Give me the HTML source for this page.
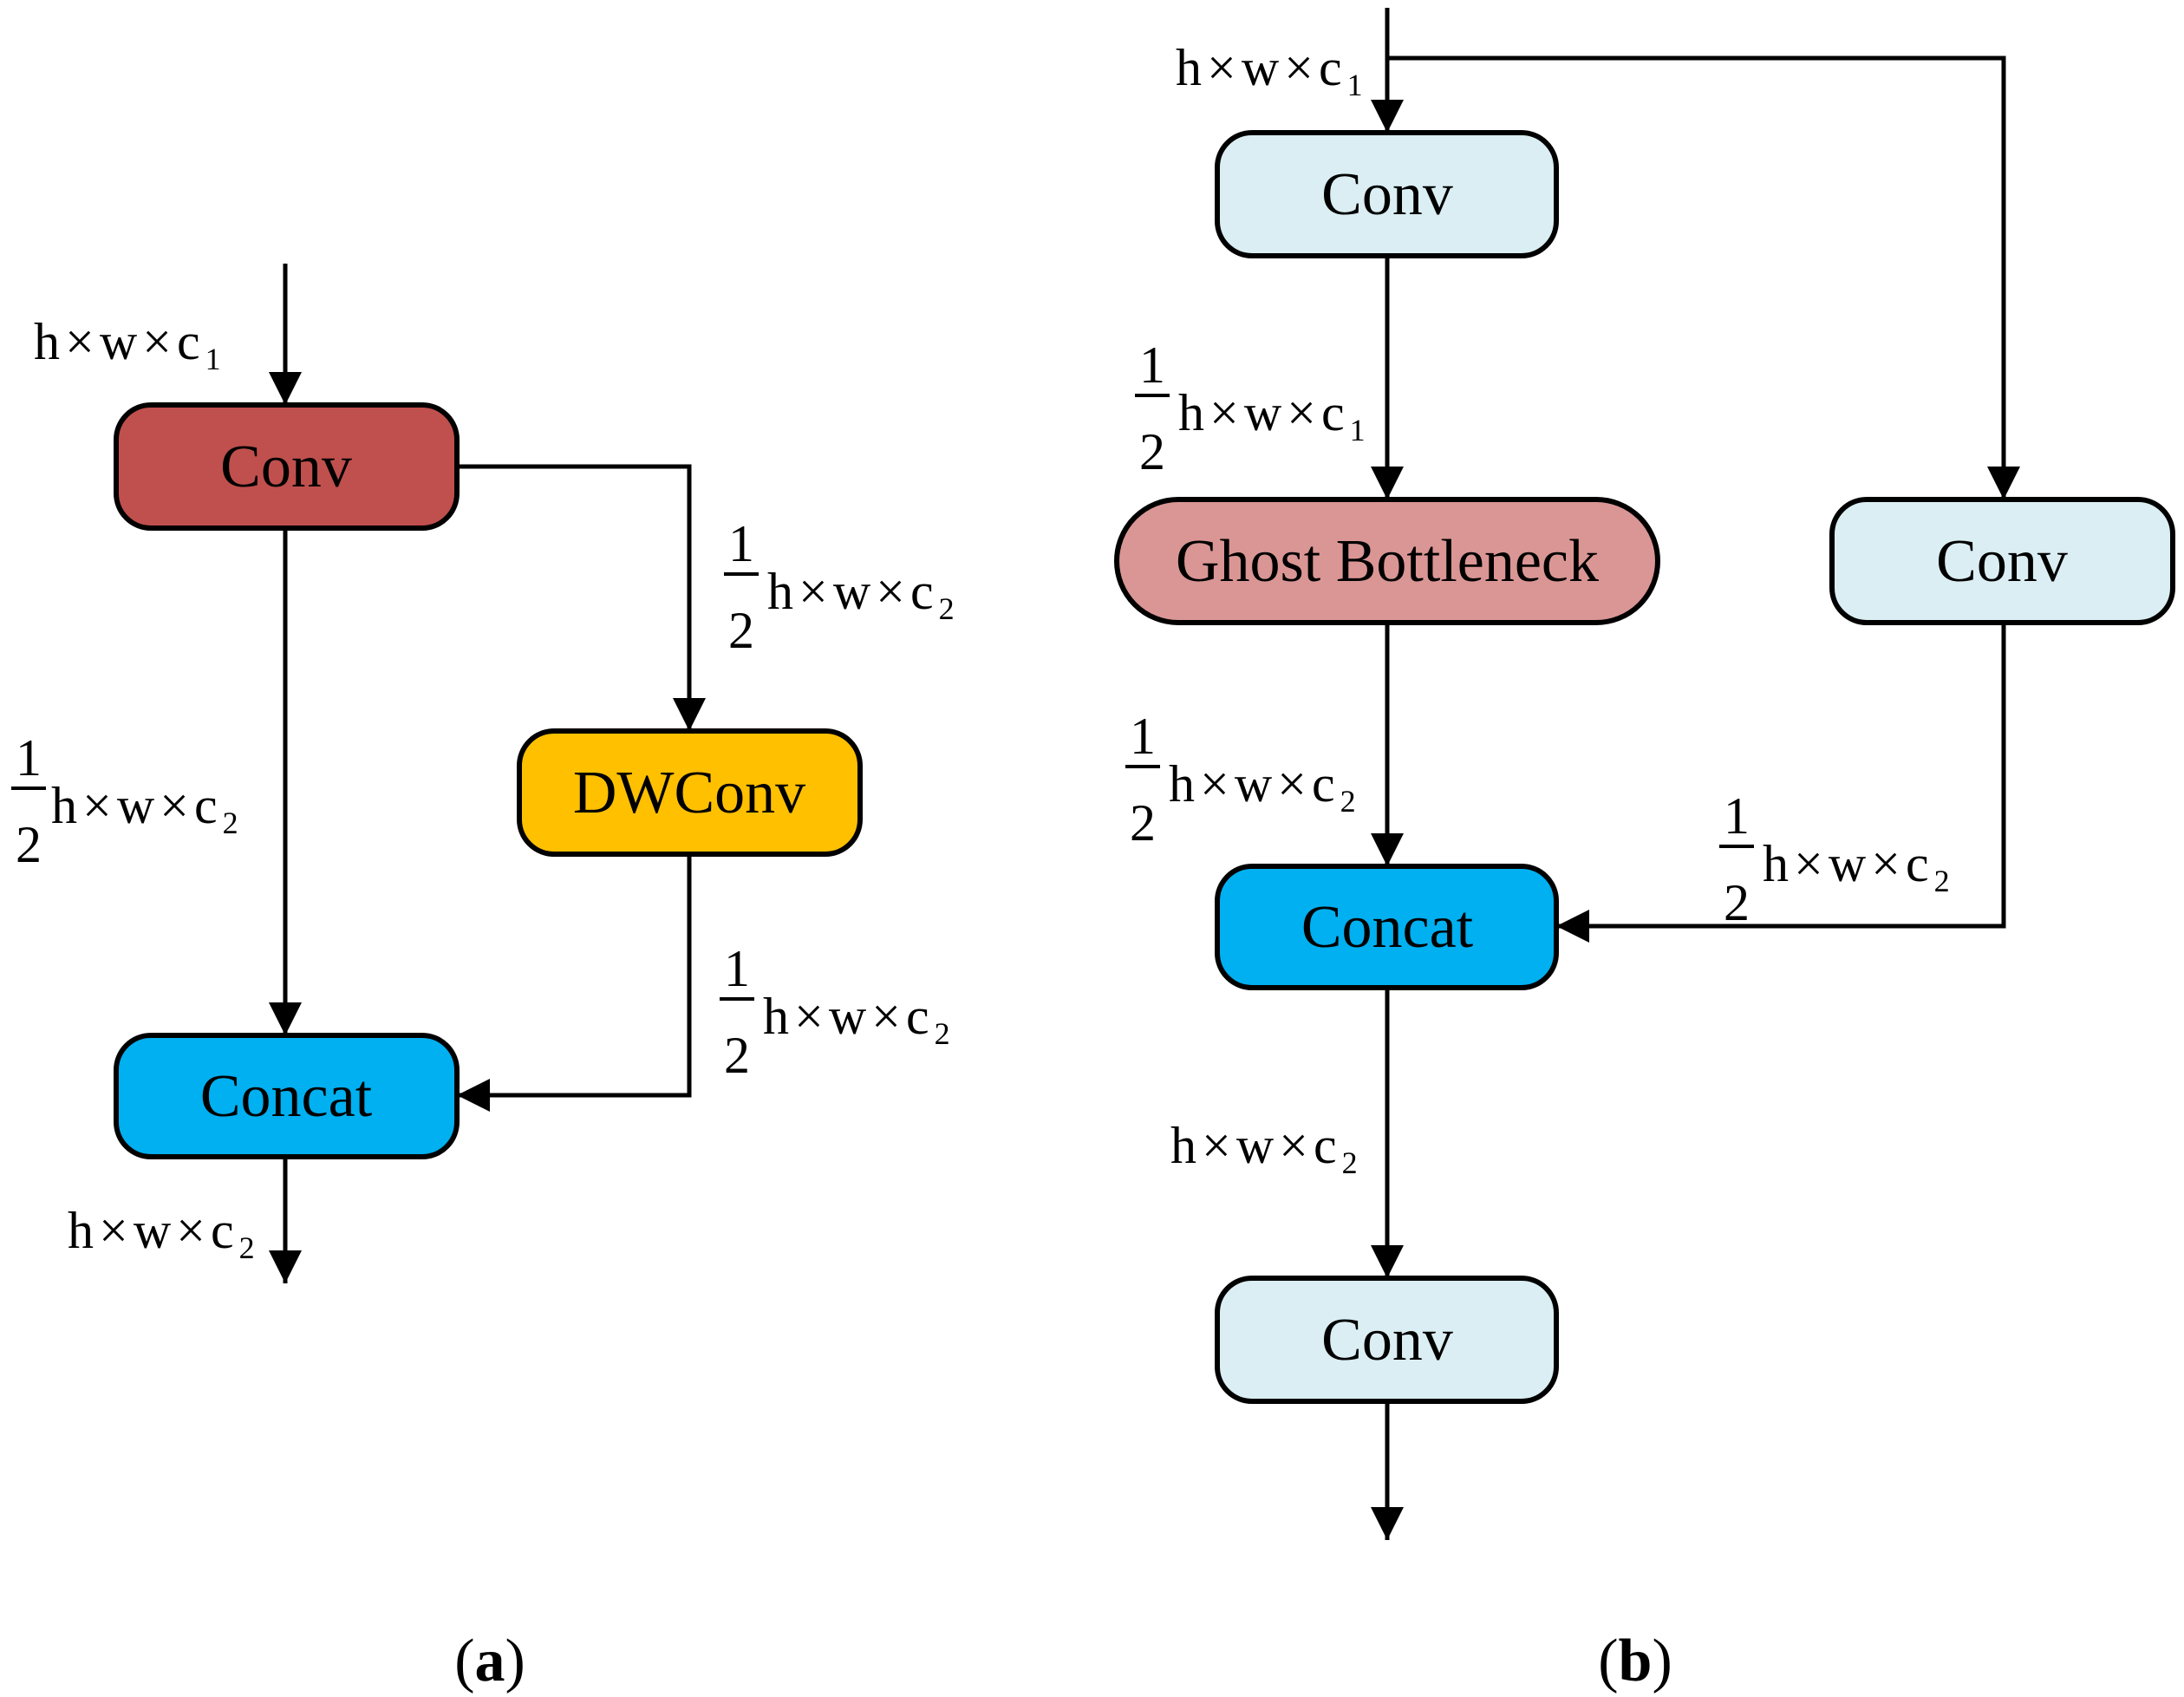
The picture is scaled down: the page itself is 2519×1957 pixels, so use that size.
<!DOCTYPE html>
<html><head><meta charset="utf-8"><style>html,body{margin:0;padding:0;background:#fff}svg{display:block}</style></head>
<body>
<svg width="2519" height="1957" viewBox="0 0 2519 1957" xmlns="http://www.w3.org/2000/svg" font-family="'Liberation Serif', serif">
<defs>
<marker id="ar" markerWidth="38" markerHeight="40" refX="38" refY="19" orient="auto" markerUnits="userSpaceOnUse"><path d="M0,0 L38,19 L0,38 Z" fill="#000"/></marker>
</defs>
<g transform="translate(0,-3)">
<g stroke="#000" stroke-width="5" fill="none">
<line x1="329" y1="307" x2="329" y2="470" marker-end="url(#ar)"/>
<polyline points="527,541 795,541 795,846" marker-end="url(#ar)"/>
<line x1="329" y1="612" x2="329" y2="1197" marker-end="url(#ar)"/>
<polyline points="795,988 795,1266 527,1266" marker-end="url(#ar)"/>
<line x1="329" y1="1337" x2="329" y2="1483" marker-end="url(#ar)"/>
</g>
<g stroke="#000" stroke-width="6">
<rect x="134" y="470" width="393" height="142" rx="40" fill="#C0504D"/>
<rect x="599" y="846" width="393" height="142" rx="40" fill="#FFC000"/>
<rect x="134" y="1197" width="393" height="140" rx="40" fill="#00B0F0"/>
</g>
<g font-size="70" text-anchor="middle" fill="#000">
<text x="330" y="564">Conv</text>
<text x="795" y="940">DWConv</text>
<text x="330" y="1290">Concat</text>
</g>
<g font-size="60" fill="#000" letter-spacing="6">
<text x="39" y="417">h×w×c<tspan font-size="36" dy="12">1</tspan></text>
<text x="78" y="1442">h×w×c<tspan font-size="36" dy="12">2</tspan></text>
</g>
<g font-size="60" fill="#000">
<g transform="translate(835,665)"><text x="20" y="-15" text-anchor="middle">1</text><line x1="0" y1="0" x2="40" y2="0" stroke="#000" stroke-width="4"/><text x="20" y="85" text-anchor="middle">2</text><text x="50" y="40" letter-spacing="6">h×w×c<tspan font-size="36" dy="12">2</tspan></text></g>
<g transform="translate(13,912)"><text x="20" y="-15" text-anchor="middle">1</text><line x1="0" y1="0" x2="40" y2="0" stroke="#000" stroke-width="4"/><text x="20" y="85" text-anchor="middle">2</text><text x="46" y="40" letter-spacing="6">h×w×c<tspan font-size="36" dy="12">2</tspan></text></g>
<g transform="translate(830,1155)"><text x="20" y="-15" text-anchor="middle">1</text><line x1="0" y1="0" x2="40" y2="0" stroke="#000" stroke-width="4"/><text x="20" y="85" text-anchor="middle">2</text><text x="50" y="40" letter-spacing="6">h×w×c<tspan font-size="36" dy="12">2</tspan></text></g>
</g>
</g>
<g transform="translate(-7,-4)">
<g stroke="#000" stroke-width="5" fill="none">
<line x1="1607" y1="13" x2="1607" y2="157" marker-end="url(#ar)"/>
<polyline points="1607,71 2318,71 2318,580" marker-end="url(#ar)"/>
<line x1="1607" y1="299" x2="1607" y2="580" marker-end="url(#ar)"/>
<line x1="1607" y1="722" x2="1607" y2="1003" marker-end="url(#ar)"/>
<polyline points="2318,722 2318,1072 1802,1072" marker-end="url(#ar)"/>
<line x1="1607" y1="1143" x2="1607" y2="1478" marker-end="url(#ar)"/>
<line x1="1607" y1="1620" x2="1607" y2="1780" marker-end="url(#ar)"/>
</g>
<g stroke="#000" stroke-width="6">
<rect x="1411" y="157" width="391" height="142" rx="40" fill="#DAEEF3"/>
<rect x="1295" y="580" width="624" height="142" rx="71" fill="#D99694"/>
<rect x="2120" y="580" width="393" height="142" rx="40" fill="#DAEEF3"/>
<rect x="1411" y="1003" width="391" height="140" rx="40" fill="#00B0F0"/>
<rect x="1411" y="1478" width="391" height="142" rx="40" fill="#DAEEF3"/>
</g>
<g font-size="70" text-anchor="middle" fill="#000">
<text x="1607" y="251">Conv</text>
<text x="1607" y="674">Ghost Bottleneck</text>
<text x="2316" y="674">Conv</text>
<text x="1607" y="1096">Concat</text>
<text x="1607" y="1572">Conv</text>
</g>
<g font-size="60" fill="#000" letter-spacing="6">
<text x="1363" y="102">h×w×c<tspan font-size="36" dy="12">1</tspan></text>
<text x="1357" y="1345">h×w×c<tspan font-size="36" dy="12">2</tspan></text>
</g>
<g font-size="60" fill="#000">
<g transform="translate(1316,460)"><text x="20" y="-15" text-anchor="middle">1</text><line x1="0" y1="0" x2="40" y2="0" stroke="#000" stroke-width="4"/><text x="20" y="85" text-anchor="middle">2</text><text x="50" y="40" letter-spacing="6">h×w×c<tspan font-size="36" dy="12">1</tspan></text></g>
<g transform="translate(1305,888)"><text x="20" y="-15" text-anchor="middle">1</text><line x1="0" y1="0" x2="40" y2="0" stroke="#000" stroke-width="4"/><text x="20" y="85" text-anchor="middle">2</text><text x="50" y="40" letter-spacing="6">h×w×c<tspan font-size="36" dy="12">2</tspan></text></g>
<g transform="translate(1990,980)"><text x="20" y="-15" text-anchor="middle">1</text><line x1="0" y1="0" x2="40" y2="0" stroke="#000" stroke-width="4"/><text x="20" y="85" text-anchor="middle">2</text><text x="50" y="40" letter-spacing="6">h×w×c<tspan font-size="36" dy="12">2</tspan></text></g>
</g>
</g>
<g font-size="70" text-anchor="middle" fill="#000">
<text x="565" y="1938">(<tspan font-weight="bold">a</tspan>)</text>
<text x="1886" y="1938">(<tspan font-weight="bold">b</tspan>)</text>
</g>
</svg>
</body></html>
